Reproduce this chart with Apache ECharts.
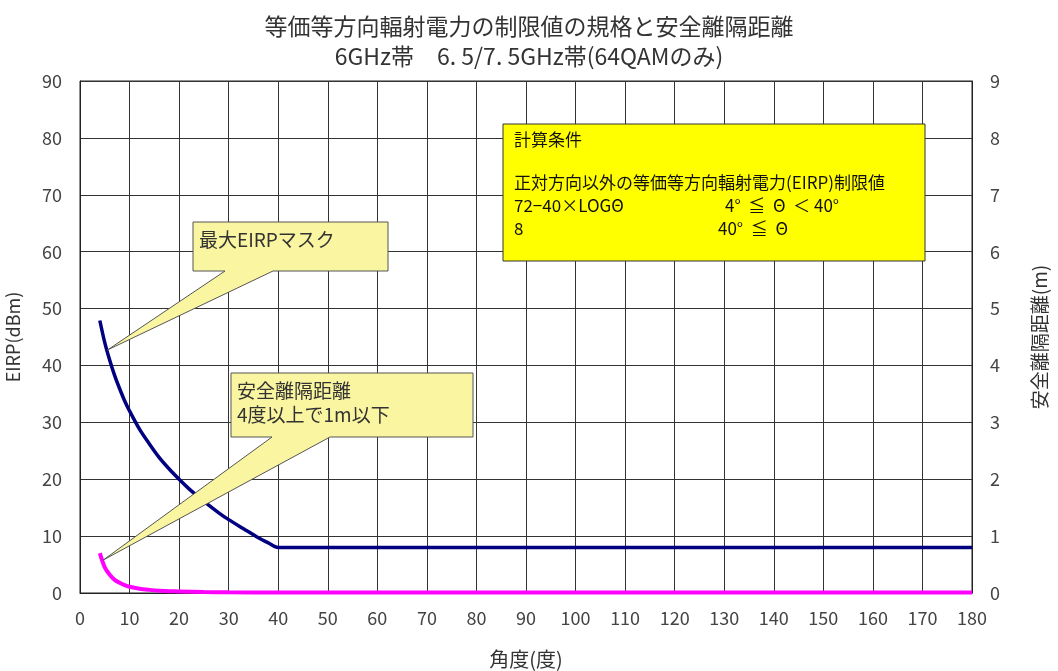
<!DOCTYPE html>
<html><head><meta charset="utf-8">
<script src="https://cdn.jsdelivr.net/npm/echarts@6/dist/echarts.min.js"></script>
<style>html,body{margin:0;padding:0;background:#fff}#c{width:1058px;height:671px}</style>
</head><body><div id="c"></div>
<script>
// Data
var eirpAngles = [4,5,6,7,8,9,10,12,14,16,18,20,22,25,28,30,33,36,38,40,180];
var eirpValues = [47.9,44.0,40.9,38.2,35.9,33.8,32.0,28.8,26.2,23.8,21.8,20.0,18.3,16.1,14.1,12.9,11.3,9.7,8.8,8.0,8.0];
var distAngles = [4,5,6,7,8,9,10,12,14,16,18,20,25,30,40,180];
var distValues = [0.70,0.45,0.32,0.23,0.18,0.14,0.11,0.075,0.055,0.04,0.03,0.028,0.016,0.011,0.007,0.007];
var xTicks = [0,10,20,30,40,50,60,70,80,90,100,110,120,130,140,150,160,170,180];
var leftTicks = [0,10,20,30,40,50,60,70,80,90];
var rightTicks = [0,1,2,3,4,5,6,7,8,9];
var titleLines = ['等価等方向輻射電力の制限値の規格と安全離隔距離','6GHz帯　6. 5/7. 5GHz帯(64QAMのみ)'];

var FONT = '"Noto Sans CJK JP", "Noto Sans", sans-serif';
var chart = echarts.init(document.getElementById('c'), null, {renderer:'canvas'});
function pairs(xs, ys){ return xs.map(function(x,i){return [x, ys[i]];}); }

var option = {
  animation:false,
  backgroundColor:'#fff',
  textStyle:{fontFamily:FONT},
  title:{
    text: titleLines.join('\n'), left:'center', top:6,
    textStyle:{fontFamily:FONT, fontSize:23, fontWeight:'normal', color:'#333', lineHeight:30}
  },
  grid:{left:80, right:86, top:81, bottom:78, containLabel:false, outerBoundsMode:'none',
        show:true, borderColor:'#222', borderWidth:1},
  xAxis:{
    type:'value', min:xTicks[0], max:xTicks[xTicks.length-1], interval:10,
    name:'角度(度)', nameLocation:'middle', nameGap:56,
    nameTextStyle:{fontFamily:FONT, fontSize:20, color:'#333'},
    axisLine:{show:true, lineStyle:{color:'#222'}},
    axisTick:{show:false},
    axisLabel:{fontFamily:FONT, fontSize:18, color:'#444', margin:16},
    splitLine:{show:true, lineStyle:{color:'#333', width:1}}
  },
  yAxis:[{
    type:'value', min:leftTicks[0], max:leftTicks[leftTicks.length-1], interval:10, position:'left',
    name:'EIRP(dBm)', nameLocation:'middle', nameGap:58, nameRotate:90,
    nameTextStyle:{fontFamily:FONT, fontSize:18, color:'#333'},
    axisLine:{show:true, lineStyle:{color:'#222'}},
    axisTick:{show:false},
    axisLabel:{fontFamily:FONT, fontSize:18, color:'#444', margin:18},
    splitLine:{show:true, lineStyle:{color:'#333', width:1}}
  },{
    type:'value', min:rightTicks[0], max:rightTicks[rightTicks.length-1], interval:1, position:'right',
    name:'安全離隔距離(m)', nameLocation:'middle', nameGap:58, nameRotate:90,
    nameTextStyle:{fontFamily:FONT, fontSize:19, color:'#333'},
    axisLine:{show:true, lineStyle:{color:'#222'}},
    axisTick:{show:false},
    axisLabel:{fontFamily:FONT, fontSize:18, color:'#444', margin:18},
    splitLine:{show:false}
  }],
  series:[{
    name:'最大EIRPマスク', type:'line', yAxisIndex:0, smooth:0.3, showSymbol:false,
    data:pairs(eirpAngles, eirpValues),
    lineStyle:{color:'#000080', width:3.5}, z:3
  },{
    name:'安全離隔距離', type:'line', yAxisIndex:1, smooth:0.3, showSymbol:false,
    data:pairs(distAngles, distValues),
    lineStyle:{color:'#ff00ff', width:4}, z:3
  }]
};
chart.setOption(option);

function callout(x0,y0,x1,y1,b1,b2,tip,text){
  return {
    type:'group', z:100, children:[{
      type:'polygon', z:100,
      shape:{points:[[x0,y0],[x1,y0],[x1,y1],[b2,y1],tip,[b1,y1],[x0,y1]]},
      style:{fill:'#faf5a0', stroke:'#555', lineWidth:1}
    },{
      type:'text', z:101, x:x0+6, y:y0+6,
      style:{text:text, fill:'#333', font:'19px '+FONT, lineHeight:24}
    }]
  };
}
var tip1 = chart.convertToPixel({xAxisIndex:0, yAxisIndex:0}, [5.5, 42.7]);
var tip2 = chart.convertToPixel({xAxisIndex:0, yAxisIndex:0}, [4.7, 5.8]);
var infoFont = '17px '+FONT;
chart.setOption({graphic:[
  callout(193,222,388,271,225,273,tip1,'最大EIRPマスク'),
  callout(231,373,473,437,272,330,tip2,'安全離隔距離\n4度以上で1m以下'),
  {type:'rect', z:100, shape:{x:503,y:124,width:422,height:137}, style:{fill:'#ffff00', stroke:'#333', lineWidth:1}},
  {type:'text', z:101, x:514, y:131, style:{text:'計算条件', fill:'#111', font:infoFont}},
  {type:'text', z:101, x:514, y:174, style:{text:'正対方向以外の等価等方向輻射電力(EIRP)制限値', fill:'#111', font:infoFont}},
  {type:'text', z:101, x:514, y:197, style:{text:'72−40×LOGΘ', fill:'#111', font:infoFont}},
  {type:'text', z:101, x:725, y:197, style:{text:'4°  ≦  Θ  ＜ 40°', fill:'#111', font:infoFont}},
  {type:'text', z:101, x:514, y:220, style:{text:'8', fill:'#111', font:infoFont}},
  {type:'text', z:101, x:718, y:220, style:{text:'40°  ≦  Θ', fill:'#111', font:infoFont}}
]});
</script></body></html>
